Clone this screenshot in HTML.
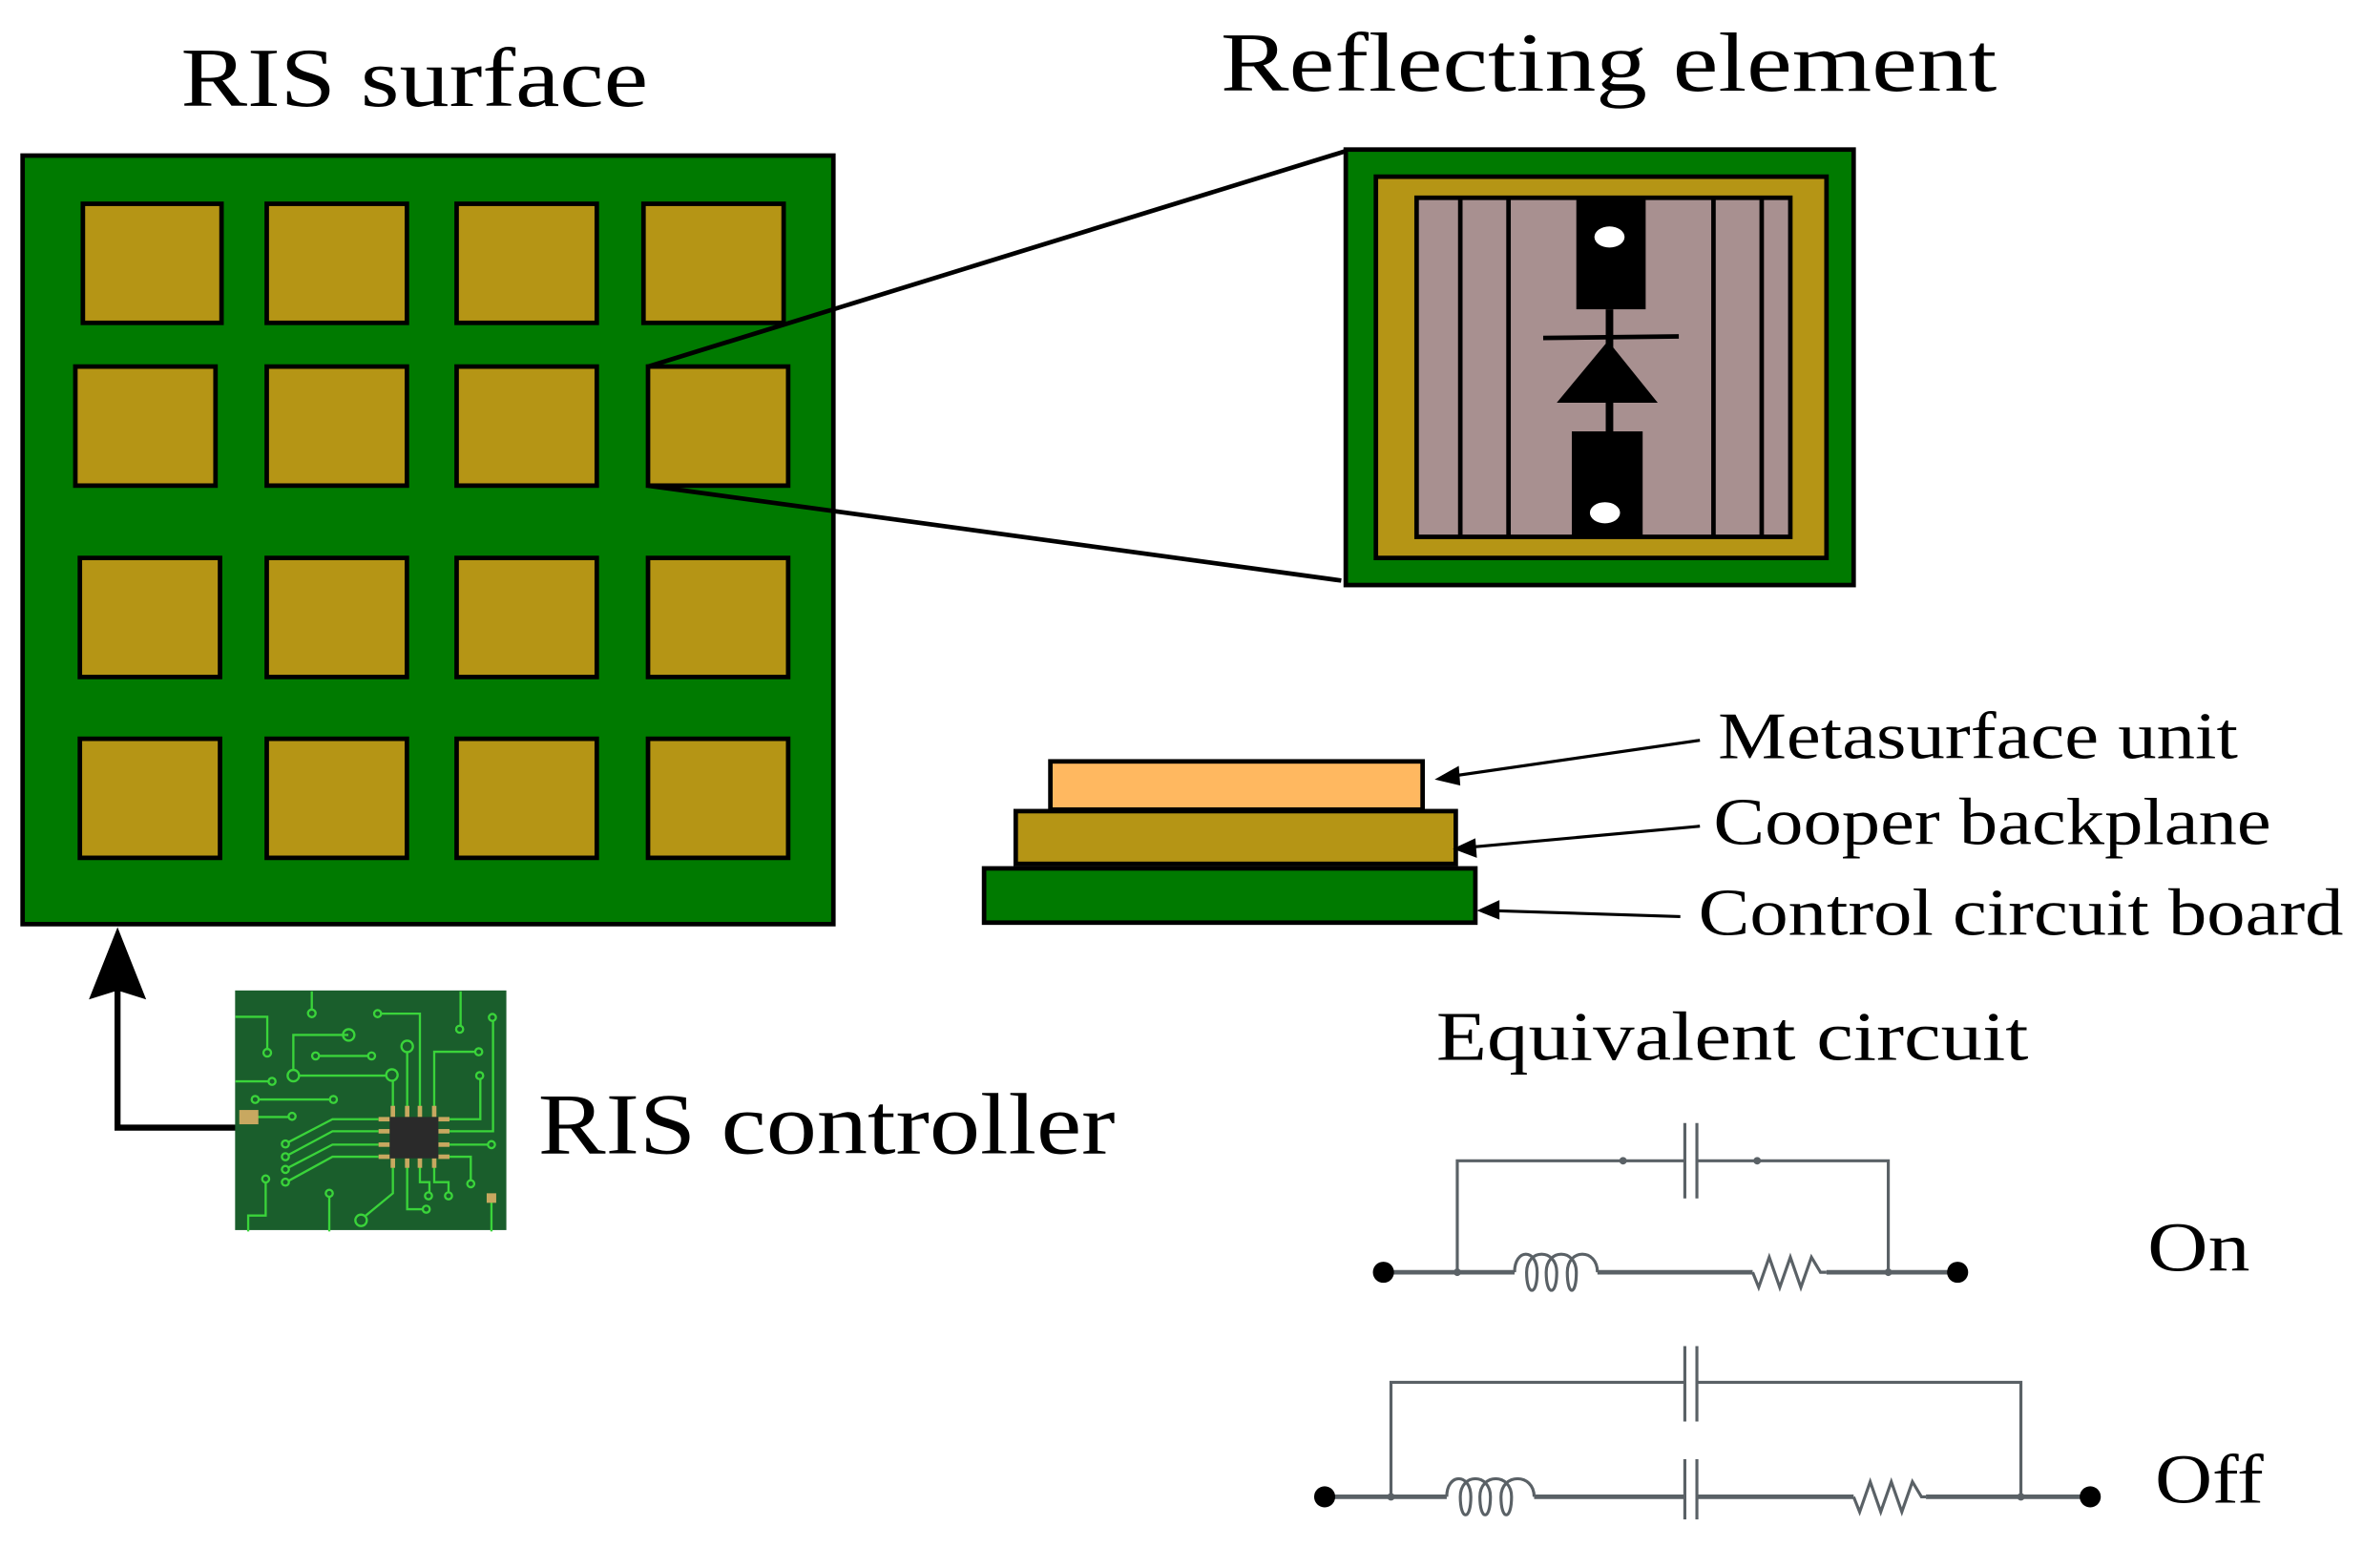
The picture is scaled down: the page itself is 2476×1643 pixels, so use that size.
<!DOCTYPE html>
<html><head><style>html,body{margin:0;padding:0;background:#fff}svg{display:block}</style></head>
<body>
<svg width="2476" height="1643" viewBox="0 0 1568 1040" xmlns="http://www.w3.org/2000/svg" font-family="'Liberation Serif', serif">
<rect width="1568" height="1040" fill="#fff"/>
<text x="120" y="70" font-size="56" textLength="310" lengthAdjust="spacingAndGlyphs">RIS surface</text>
<text x="810" y="60" font-size="56" textLength="515" lengthAdjust="spacingAndGlyphs">Reflecting element</text>
<rect x="15" y="103" width="538" height="510" fill="#007a00" stroke="#000" stroke-width="3"/>
<g fill="#b59515" stroke="#000" stroke-width="3">
<rect x="55" y="135" width="92" height="79"/><rect x="177" y="135" width="93" height="79"/><rect x="303" y="135" width="93" height="79"/><rect x="427" y="135" width="93" height="79"/>
<rect x="50" y="243" width="93" height="79"/><rect x="177" y="243" width="93" height="79"/><rect x="303" y="243" width="93" height="79"/><rect x="430" y="243" width="93" height="79"/>
<rect x="53" y="370" width="93" height="79"/><rect x="177" y="370" width="93" height="79"/><rect x="303" y="370" width="93" height="79"/><rect x="430" y="370" width="93" height="79"/>
<rect x="53" y="490" width="93" height="79"/><rect x="177" y="490" width="93" height="79"/><rect x="303" y="490" width="93" height="79"/><rect x="430" y="490" width="93" height="79"/>
</g>
<line x1="430" y1="243" x2="893" y2="100" stroke="#000" stroke-width="3"/>
<line x1="430" y1="322" x2="890" y2="385" stroke="#000" stroke-width="3"/>
<rect x="893" y="99" width="337" height="289" fill="#007a00" stroke="#000" stroke-width="3"/>
<rect x="913" y="117" width="299" height="253" fill="#b59515" stroke="#000" stroke-width="3"/>
<rect x="940" y="131" width="248" height="225" fill="#a89090" stroke="#000" stroke-width="3"/>
<g stroke="#000" stroke-width="3"><line x1="969" y1="131" x2="969" y2="356"/><line x1="1001" y1="131" x2="1001" y2="356"/><line x1="1137" y1="131" x2="1137" y2="356"/><line x1="1169" y1="131" x2="1169" y2="356"/>
<line x1="1068" y1="205" x2="1068" y2="286" stroke-width="5"/><line x1="1024" y1="224" x2="1114" y2="223"/></g>
<rect x="1046" y="131" width="46" height="74" fill="#000"/>
<rect x="1043" y="286" width="47" height="70" fill="#000"/>
<ellipse cx="1068" cy="157" rx="10" ry="7" fill="#fff"/>
<ellipse cx="1065" cy="340" rx="10" ry="7" fill="#fff"/>
<polygon points="1033,267 1100,267 1067,226" fill="#000"/>
<rect x="697" y="505" width="247" height="32" fill="#ffb860" stroke="#000" stroke-width="3"/>
<rect x="674" y="538" width="292" height="35" fill="#b59515" stroke="#000" stroke-width="3"/>
<rect x="653" y="576" width="326" height="36" fill="#007a00" stroke="#000" stroke-width="3"/>
<g stroke="#000" stroke-width="2"><line x1="1128" y1="491" x2="962" y2="515"/><line x1="1128" y1="548" x2="975" y2="562"/><line x1="1115" y1="608" x2="990" y2="604"/></g>
<g fill="#000"><polygon points="952,517 968,508 969,521"/><polygon points="964,563 979,556 980,569"/><polygon points="980,604 995,597 995,610"/></g>
<g font-size="44"><text x="1140" y="503" textLength="345" lengthAdjust="spacingAndGlyphs">Metasurface unit</text><text x="1137" y="560" textLength="370" lengthAdjust="spacingAndGlyphs">Cooper backplane</text><text x="1127" y="620" textLength="428" lengthAdjust="spacingAndGlyphs">Control circuit board</text></g>
<polyline points="160,748 78,748 78,650" fill="none" stroke="#000" stroke-width="4"/>
<polygon points="78,615 97,663 78,657 59,663" fill="#000"/>
<rect x="156" y="657" width="180" height="159" fill="#1a5e2c"/>
<g transform="translate(145.7,646) scale(0.211)">
<g stroke="#3ad43a" stroke-width="7" fill="none">
<polyline points="50,135 150,135 150,240"/><circle cx="150" cy="248" r="12"/>
<line x1="290" y1="55" x2="290" y2="115"/><circle cx="290" cy="124" r="12"/>
<polyline points="405,192 232,192 232,305"/><circle cx="406" cy="192" r="18"/><circle cx="232" cy="320" r="18"/>
<line x1="312" y1="258" x2="468" y2="258"/><circle cx="302" cy="258" r="11"/><circle cx="478" cy="258" r="11"/>
<line x1="250" y1="320" x2="525" y2="320"/><circle cx="542" cy="318" r="18"/><line x1="545" y1="336" x2="545" y2="420"/>
<line x1="50" y1="338" x2="155" y2="338"/><circle cx="165" cy="338" r="11"/>
<line x1="122" y1="395" x2="350" y2="395"/><circle cx="112" cy="395" r="11"/><circle cx="358" cy="395" r="11"/>
<line x1="120" y1="450" x2="220" y2="450"/><circle cx="228" cy="448" r="11"/>
<polyline points="508,125 630,125 630,420"/><circle cx="497" cy="125" r="11"/><circle cx="590" cy="228" r="18"/><line x1="590" y1="246" x2="590" y2="420"/>
<line x1="758" y1="55" x2="758" y2="165"/><circle cx="755" cy="174" r="11"/><polyline points="675,420 675,245 805,245"/><circle cx="815" cy="245" r="11"/>
<polyline points="700,457 820,457 820,330"/><circle cx="818" cy="320" r="11"/><polyline points="700,495 860,495 860,148"/><circle cx="858" cy="137" r="11"/><line x1="700" y1="537" x2="845" y2="537"/><circle cx="855" cy="537" r="11"/>
<polyline points="700,575 790,575 790,650"/><circle cx="790" cy="660" r="11"/>
<polyline points="500,457 355,457 215,530"/><polyline points="500,495 355,495 215,570"/><polyline points="500,537 355,537 215,610"/><polyline points="500,575 355,575 215,652"/>
<circle cx="207" cy="535" r="11"/><circle cx="207" cy="575" r="11"/><circle cx="207" cy="615" r="11"/><circle cx="207" cy="655" r="11"/>
<polyline points="545,590 545,690 460,760"/><circle cx="445" cy="775" r="18"/><polyline points="590,590 590,740 640,740"/><circle cx="650" cy="740" r="11"/>
<polyline points="630,590 630,655 660,655 660,688"/><circle cx="657" cy="698" r="11"/><polyline points="675,590 675,655 720,655 720,688"/><circle cx="720" cy="698" r="11"/>
<polyline points="90,810 90,760 145,760 145,655"/><circle cx="145" cy="645" r="11"/><line x1="345" y1="810" x2="345" y2="700"/><circle cx="345" cy="690" r="11"/><line x1="855" y1="810" x2="855" y2="715"/>
</g>
<g fill="#c8a860">
<rect x="62" y="428" width="60" height="45"/><rect x="840" y="690" width="30" height="30"/>
<rect x="500" y="450" width="35" height="14"/><rect x="500" y="488" width="35" height="14"/><rect x="500" y="530" width="35" height="14"/><rect x="500" y="568" width="35" height="14"/>
<rect x="688" y="450" width="35" height="14"/><rect x="688" y="488" width="35" height="14"/><rect x="688" y="530" width="35" height="14"/><rect x="688" y="568" width="35" height="14"/>
<rect x="538" y="415" width="14" height="35"/><rect x="583" y="415" width="14" height="35"/><rect x="623" y="415" width="14" height="35"/><rect x="668" y="415" width="14" height="35"/>
<rect x="538" y="580" width="14" height="30"/><rect x="583" y="580" width="14" height="30"/><rect x="623" y="580" width="14" height="30"/><rect x="668" y="580" width="14" height="30"/>
</g>
<rect x="535" y="450" width="153" height="130" fill="#2a2a2a"/>
</g>
<text x="357" y="765" font-size="58" textLength="383" lengthAdjust="spacingAndGlyphs">RIS controller</text>
<text x="953" y="703" font-size="46" textLength="393" lengthAdjust="spacingAndGlyphs">Equivalent circuit</text>
<g stroke="#5a6166" stroke-width="2" fill="none">
<polyline points="967,844 967,770 1118,770"/><polyline points="1126,770 1253,770 1253,844"/>
<line x1="1118" y1="745" x2="1118" y2="795"/><line x1="1126" y1="745" x2="1126" y2="795"/>
<line x1="918" y1="844" x2="1005" y2="844" stroke-width="3"/><line x1="1060" y1="844" x2="1163" y2="844" stroke-width="3"/><line x1="1212" y1="844" x2="1299" y2="844" stroke-width="3"/>
<path d="M1005,844 C1005,828 1020,828 1020,844 C1020,860 1013,860 1013,844 C1013,828 1033,828 1033,844 C1033,860 1026,860 1026,844 C1026,828 1046,828 1046,844 C1046,860 1040,860 1040,844 C1040,828 1060,828 1060,844"/>
<polyline points="1163,844 1167,854 1174,834 1181,854 1188,834 1195,854 1202,834 1208,844 1212,844"/>
<polyline points="923,993 923,917 1118,917"/><polyline points="1126,917 1341,917 1341,993"/>
<line x1="1118" y1="893" x2="1118" y2="943"/><line x1="1126" y1="893" x2="1126" y2="943"/>
<line x1="1118" y1="968" x2="1118" y2="1008"/><line x1="1126" y1="968" x2="1126" y2="1008"/>
<line x1="879" y1="993" x2="960" y2="993" stroke-width="3"/><line x1="1018" y1="993" x2="1118" y2="993" stroke-width="3"/><line x1="1126" y1="993" x2="1230" y2="993" stroke-width="3"/><line x1="1278" y1="993" x2="1387" y2="993" stroke-width="3"/>
<path d="M960,993 C960,977 976,977 976,993 C976,1009 969,1009 969,993 C969,977 989,977 989,993 C989,1009 982,1009 982,993 C982,977 1003,977 1003,993 C1003,1009 996,1009 996,993 C996,977 1018,977 1018,993"/>
<polyline points="1230,993 1234,1003 1241,983 1248,1003 1255,983 1262,1003 1269,983 1275,993 1278,993"/>
</g>
<g fill="#000"><circle cx="918" cy="844" r="7"/><circle cx="1299" cy="844" r="7"/><circle cx="879" cy="993" r="7"/><circle cx="1387" cy="993" r="7"/></g>
<g fill="#5a6166"><circle cx="967" cy="844" r="2.5"/><circle cx="1253" cy="844" r="2.5"/><circle cx="1077" cy="770" r="2.5"/><circle cx="1166" cy="770" r="2.5"/><circle cx="923" cy="993" r="2.5"/><circle cx="1341" cy="993" r="2.5"/></g>
<text x="1425" y="843" font-size="46" textLength="68" lengthAdjust="spacingAndGlyphs">On</text>
<text x="1430" y="997" font-size="46" textLength="72" lengthAdjust="spacingAndGlyphs">Off</text>
</svg>
</body></html>
